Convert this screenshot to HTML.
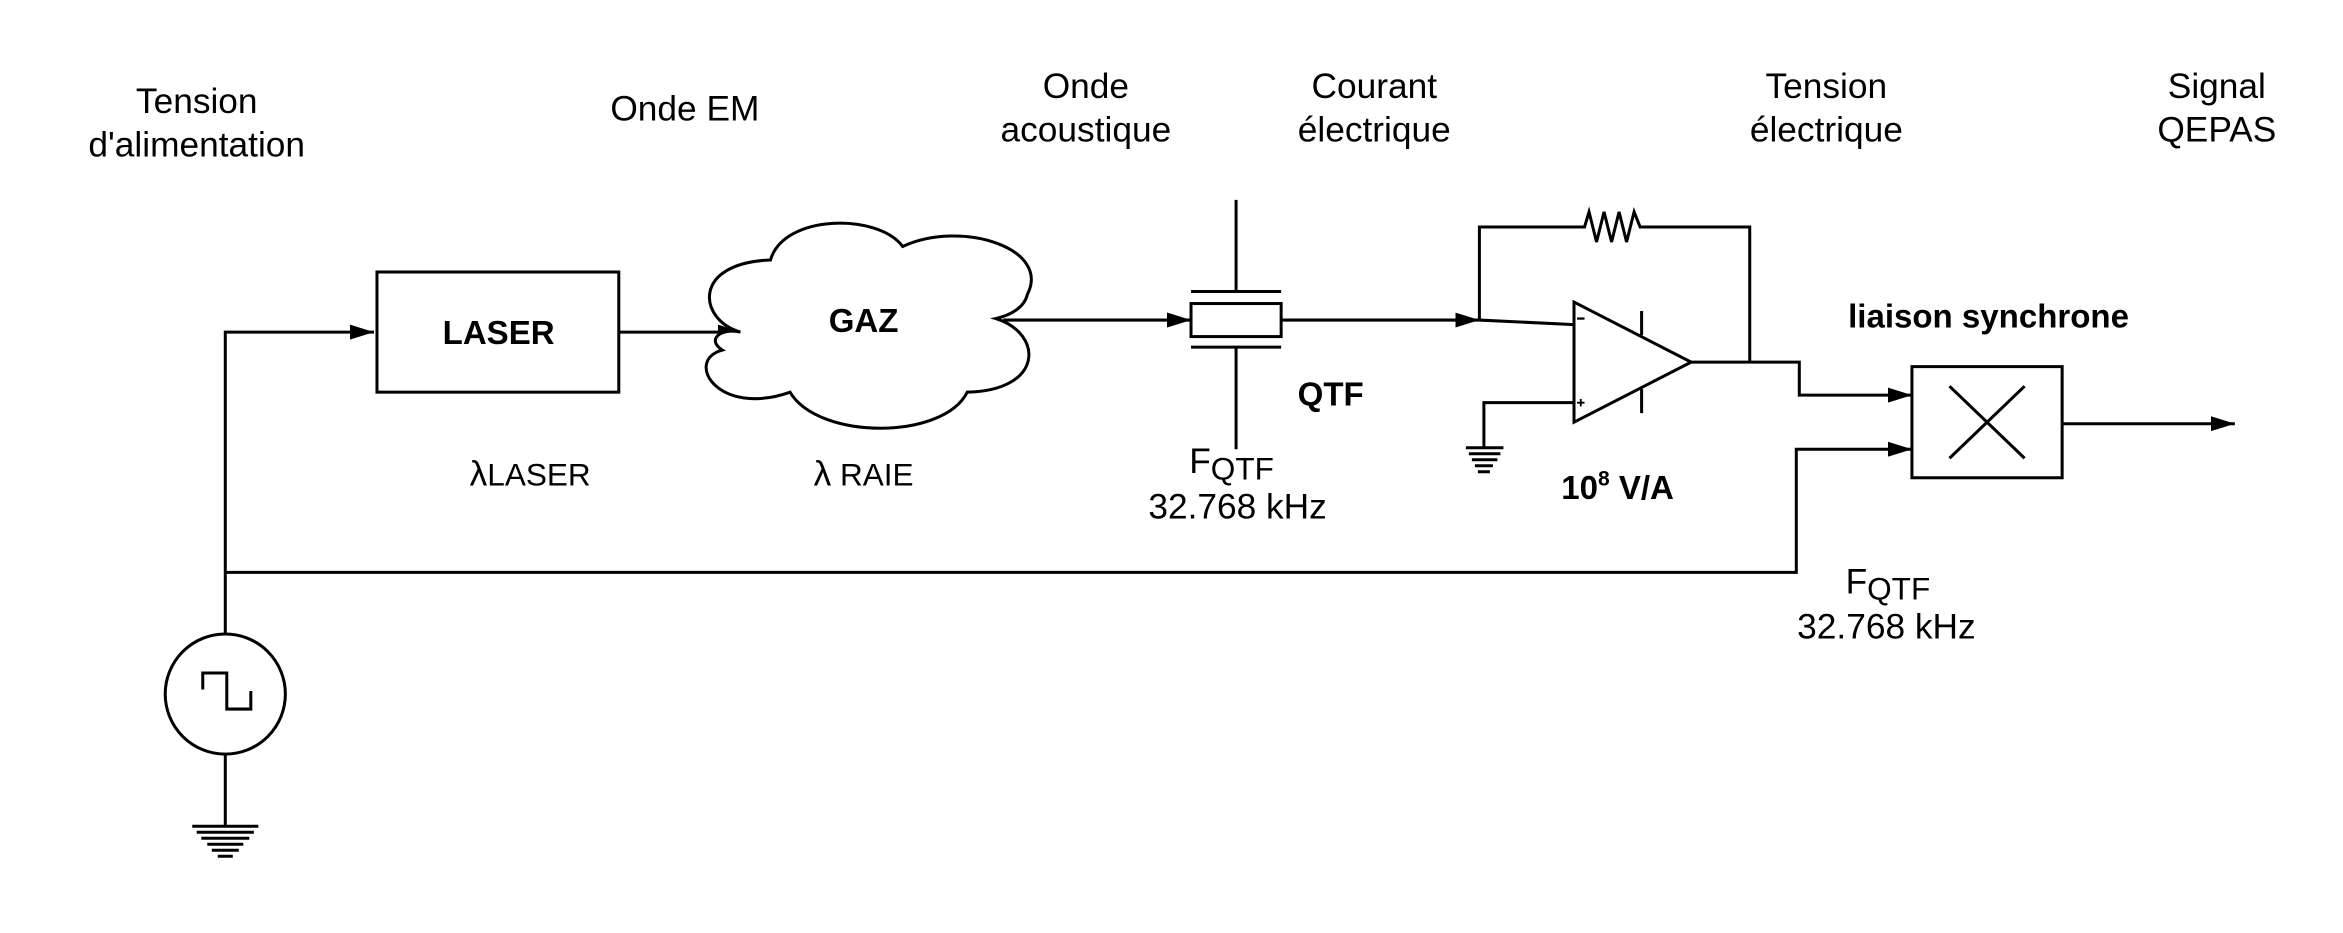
<!DOCTYPE html>
<html><head><meta charset="utf-8"><style>html,body{margin:0;padding:0;background:#fff}svg{display:block}</style></head>
<body>
<svg width="2343" height="933" viewBox="0 0 1560 621" xmlns="http://www.w3.org/2000/svg" font-family="Liberation Sans, Arial, sans-serif">
<defs>
<marker id="b" viewBox="0 0 16 10" markerWidth="16" markerHeight="10" refX="16" refY="5" orient="auto" markerUnits="userSpaceOnUse"><path d="M0,0 L16,5 L0,10 z" fill="#000"/></marker></defs>
<g stroke="#000" stroke-width="2" fill="none">
<rect x="251" y="181" width="161" height="80"/>
<path d="M150,423 V221 H249" marker-end="url(#b)"/>
<path d="M412,221 H494" marker-end="url(#b)"/>
<path d="M493,221 C465,213 460,175 513,173 C522,142 585,142 601,164 C640,146 700,165 684,196 C682,205 672,210 663,212 C695,222 695,260 644,261 C628,293 545,293 526,261 C478,278 455,240 481,233 C470,226 480,218 493,221 Z" fill="#fff"/>
<path d="M668,213 H793" marker-end="url(#b)"/>
<rect x="793" y="202" width="60" height="22"/>
<path d="M793,194 H853 M793,231 H853 M823,133 V194 M823,231 V299"/>
<path d="M853,213 H985" marker-end="url(#b)"/>
<path d="M985,213 V151 H1055 L1058,141 L1063,161 L1068,141 L1073,161 L1078,141 L1083,161 L1088,141 L1092,151 H1165 V241"/>
<path d="M1048,201 L1048,281 L1126,241 Z"/>
<path d="M985,213 L1048,216 M1048,268 H988 V298 M1093,207 V223 M1093,259 V275"/>
<path d="M1126,241 H1198 V263 H1273" marker-end="url(#b)"/>
<path d="M150,381 H1196 V299 H1273" marker-end="url(#b)"/>
<rect x="1273" y="244" width="100" height="74"/>
<path d="M1298,257 L1348,305 M1348,257 L1298,305"/>
<path d="M1373,282 H1488" marker-end="url(#b)"/>
<circle cx="150" cy="462" r="40"/>
<path d="M135,459 V448 H151 V472 H167 V460"/>
<path d="M150,502 V550"/>
</g>
<g stroke="#000" stroke-width="2">
<path d="M128,550 H172 M131,554 H169 M134,558 H166 M138,562 H162 M141,566 H159 M145,570 H155"/>
<path d="M976,298 H1001 M978,302 H999 M980,306 H997 M982,310 H994 M984,314 H992"/>
</g>
<path d="M1050,212 h5" stroke="#000" stroke-width="1.5"/>
<path d="M1050,268 h5 M1052.5,265.5 v5" stroke="#000" stroke-width="1.2"/>
<g fill="#000" font-size="23.5" text-anchor="middle">
<text x="131" y="75">Tension</text><text x="131" y="104">d'alimentation</text>
<text x="456" y="80">Onde EM</text>
<text x="723" y="65">Onde</text><text x="723" y="94">acoustique</text>
<text x="915" y="65">Courant</text><text x="915" y="94">électrique</text>
<text x="1216" y="65">Tension</text><text x="1216" y="94">électrique</text>
<text x="1476" y="65">Signal</text><text x="1476" y="94">QEPAS</text>
<g font-weight="bold" font-size="22">
<text x="332" y="229">LASER</text>
<text x="575" y="221">GAZ</text>
<text x="886" y="270">QTF</text>
<text x="1324" y="218">liaison synchrone</text>
<text x="1077" y="332">10<tspan font-size="14" dy="-9">8</tspan><tspan dy="9"> V/A</tspan></text>
</g>
<text x="353" y="323">λ<tspan font-size="21" dy="0">LASER</tspan></text>
<text x="575" y="323">λ<tspan font-size="21"> RAIE</tspan></text>
<text x="820" y="315">F<tspan font-size="21" dy="4">QTF</tspan></text>
<text x="824" y="345">32.768 kHz</text>
<text x="1257" y="395">F<tspan font-size="21" dy="4">QTF</tspan></text>
<text x="1256" y="425">32.768 kHz</text>
</g>
</svg>
</body></html>
